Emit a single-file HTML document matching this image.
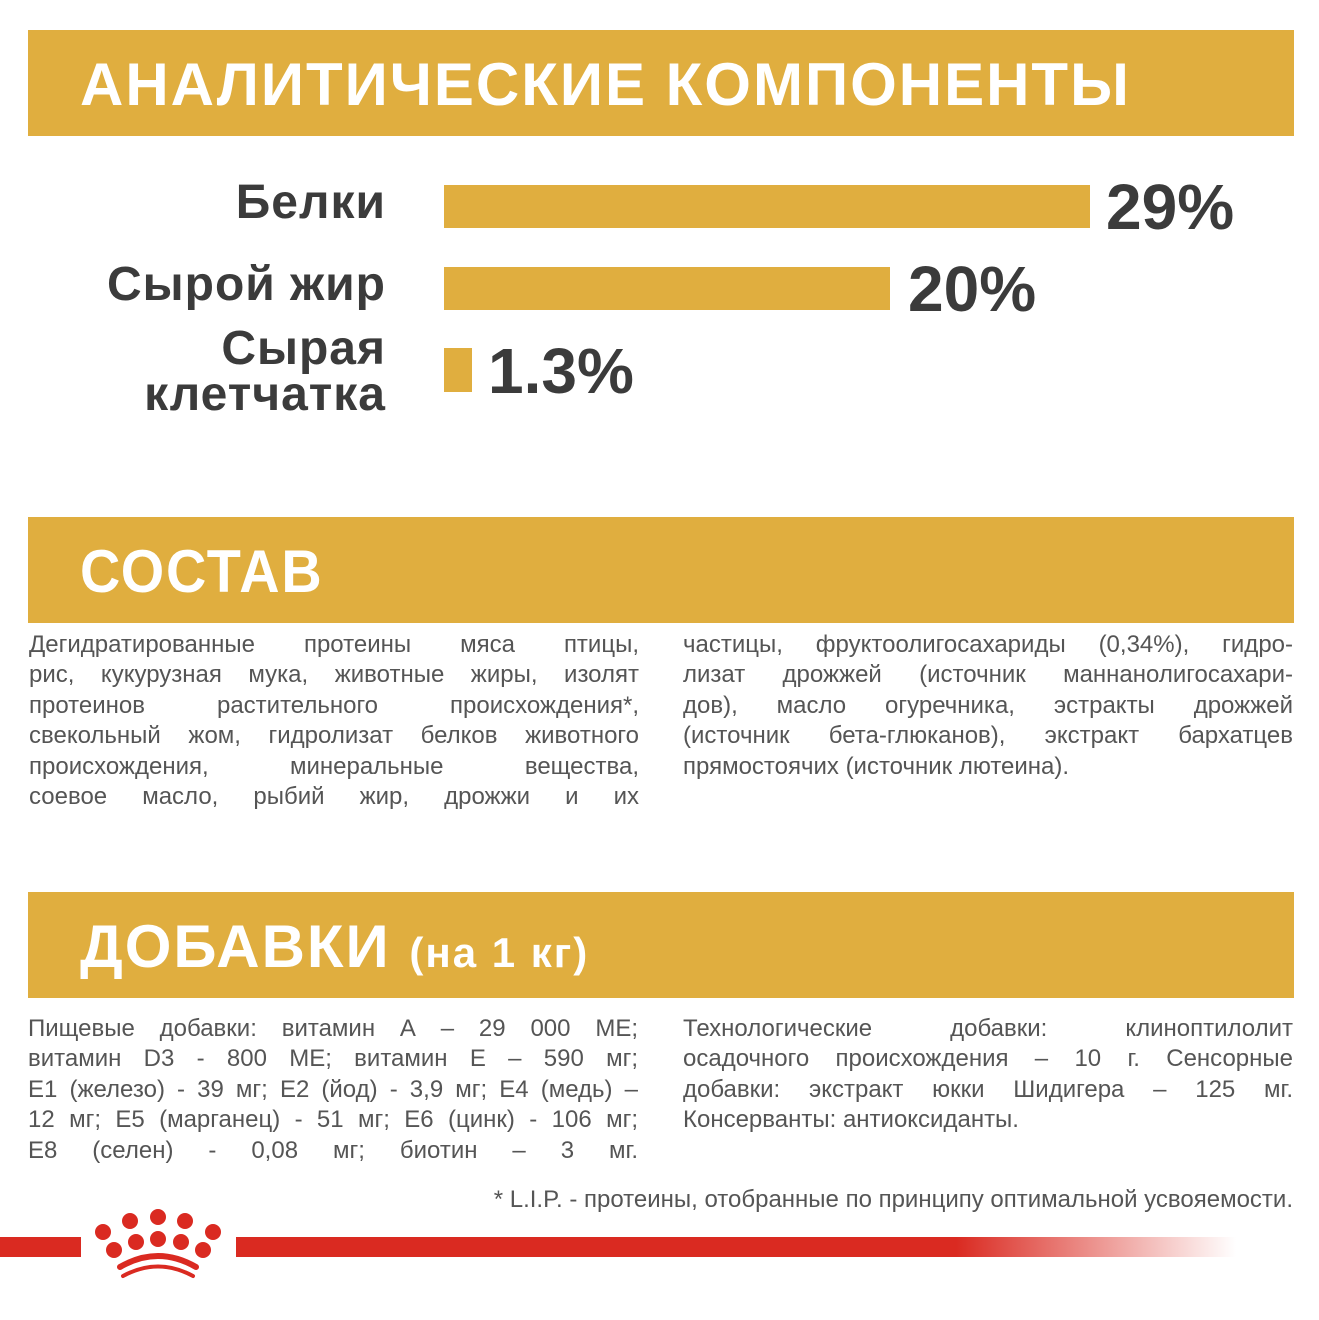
<!DOCTYPE html>
<html><head><meta charset="utf-8"><style>
body{margin:0;width:1319px;height:1320px;background:#fff;position:relative;overflow:hidden;font-family:"Liberation Sans",sans-serif}
.band{position:absolute;left:28px;width:1266px;height:106px;background:#E0AE3F}
.band span{position:absolute;left:52px;top:20px;color:#fff;font-weight:bold;font-size:60px;letter-spacing:2px;white-space:nowrap;transform-origin:left}
.lbl{position:absolute;right:933px;color:#3b3b3b;font-weight:bold;font-size:48px;text-align:right;line-height:46px;letter-spacing:1px}
.bar{position:absolute;left:444px;background:#E0AE3F}
.pct{position:absolute;color:#3b3b3b;font-weight:bold;font-size:64px;line-height:62px}
.txt{position:absolute;width:610px;color:#555;font-size:24px;line-height:30.4px}
.txt div{text-align:justify;text-align-last:justify;white-space:nowrap;height:30.4px}
.txt div.l{text-align-last:left}
</style></head><body>
<div class="band" style="top:30px"><span>АНАЛИТИЧЕСКИЕ КОМПОНЕНТЫ</span></div>
<div class="lbl" style="top:180px">Белки</div>
<div class="bar" style="top:185px;width:646px;height:43px"></div>
<div class="pct" style="left:1106px;top:176px">29%</div>
<div class="lbl" style="top:262px">Сырой жир</div>
<div class="bar" style="top:267px;width:446px;height:43px"></div>
<div class="pct" style="left:908px;top:258px">20%</div>
<div class="lbl" style="top:326px">Сырая<br>клетчатка</div>
<div class="bar" style="top:348px;width:28px;height:44px"></div>
<div class="pct" style="left:488px;top:340px">1.3%</div>

<div class="band" style="top:517px"><span style="transform:scaleX(.93)">СОСТАВ</span></div>
<div class="txt" style="left:29px;top:630px">
<div>Дегидратированные протеины мяса птицы,</div>
<div>рис, кукурузная мука, животные жиры, изолят</div>
<div>протеинов растительного происхождения*,</div>
<div>свекольный жом, гидролизат белков животного</div>
<div>происхождения, минеральные вещества,</div>
<div>соевое масло, рыбий жир, дрожжи и их</div>
</div>
<div class="txt" style="left:683px;top:630px">
<div>частицы, фруктоолигосахариды (0,34%), гидро-</div>
<div>лизат дрожжей (источник маннанолигосахари-</div>
<div>дов), масло огуречника, эстракты дрожжей</div>
<div>(источник бета-глюканов), экстракт бархатцев</div>
<div class="l">прямостоячих (источник лютеина).</div>
</div>

<div class="band" style="top:892px"><span>ДОБАВКИ <span style="position:static;font-size:42px">(на 1 кг)</span></span></div>
<div class="txt" style="left:28px;top:1014px">
<div>Пищевые добавки: витамин А – 29 000 МЕ;</div>
<div>витамин D3 - 800 МЕ; витамин Е – 590 мг;</div>
<div>Е1 (железо) - 39 мг; Е2 (йод) - 3,9 мг; Е4 (медь) –</div>
<div>12 мг; Е5 (марганец) - 51 мг; Е6 (цинк) - 106 мг;</div>
<div>Е8 (селен) - 0,08 мг; биотин – 3 мг.</div>
</div>
<div class="txt" style="left:683px;top:1014px">
<div>Технологические добавки: клиноптилолит</div>
<div>осадочного происхождения – 10 г. Сенсорные</div>
<div>добавки: экстракт юкки Шидигера – 125 мг.</div>
<div class="l">Консерванты: антиоксиданты.</div>
</div>
<div style="position:absolute;right:26px;top:1186px;color:#555;font-size:24px;white-space:nowrap">* L.I.P. - протеины, отобранные по принципу оптимальной усвояемости.</div>

<div style="position:absolute;left:0;top:1237px;width:81px;height:20px;background:#DA2A21"></div>
<div style="position:absolute;left:236px;top:1237px;width:1000px;height:20px;background:linear-gradient(to right,#DA2A21 0,#DA2A21 72%,#fff 100%)"></div>
<svg style="position:absolute;left:90px;top:1205px" width="140" height="80" viewBox="90 1205 140 80">
<g fill="#DA2A21">
<circle cx="103" cy="1232" r="8"/><circle cx="130" cy="1221" r="8"/><circle cx="158" cy="1217" r="8"/><circle cx="185" cy="1221" r="8"/><circle cx="213" cy="1232" r="8"/>
<circle cx="114" cy="1250" r="8"/><circle cx="136" cy="1242" r="8"/><circle cx="158" cy="1239" r="8"/><circle cx="181" cy="1242" r="8"/><circle cx="203" cy="1250" r="8"/>
</g>
<path d="M120 1267 Q158 1245 196 1267" stroke="#DA2A21" stroke-width="6" fill="none" stroke-linecap="round"/>
<path d="M123 1276 Q158 1257 193 1276" stroke="#DA2A21" stroke-width="4" fill="none" stroke-linecap="round"/>
</svg>
</body></html>
